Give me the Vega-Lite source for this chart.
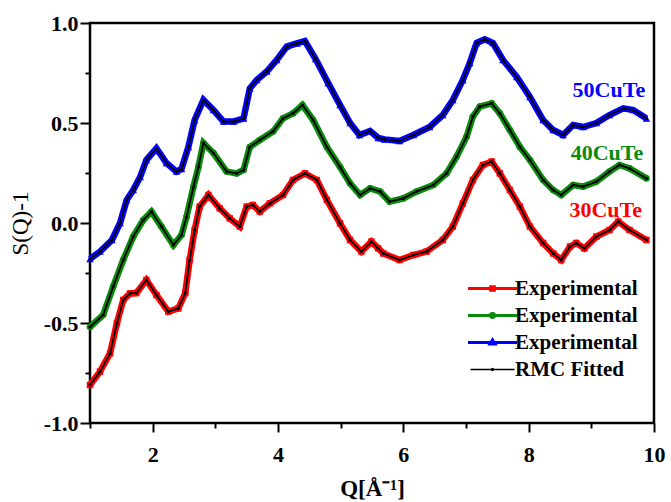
{
"$schema": "https://vega.github.io/schema/vega-lite/v6.json",
"width": 564, "height": 400,
"autosize": {"type": "none"},
"padding": {"left": 90, "top": 23, "right": 17, "bottom": 79},
"background": "white",
"config": {"view": {"stroke": "black", "strokeWidth": 2.5}, "font": "Liberation Serif"},
"datasets": {
"sq": [
{"series":"30CuTe","Q":1.0,"S":-0.81},{"series":"30CuTe","Q":1.16,"S":-0.743},{"series":"30CuTe","Q":1.32,"S":-0.652},{"series":"30CuTe","Q":1.43,"S":-0.5},{"series":"30CuTe","Q":1.53,"S":-0.385},{"series":"30CuTe","Q":1.64,"S":-0.352},{"series":"30CuTe","Q":1.74,"S":-0.35},{"series":"30CuTe","Q":1.9,"S":-0.285},{"series":"30CuTe","Q":2.06,"S":-0.36},{"series":"30CuTe","Q":2.25,"S":-0.443},{"series":"30CuTe","Q":2.41,"S":-0.427},{"series":"30CuTe","Q":2.52,"S":-0.35},{"series":"30CuTe","Q":2.59,"S":-0.185},{"series":"30CuTe","Q":2.67,"S":-0.035},{"series":"30CuTe","Q":2.75,"S":0.082},{"series":"30CuTe","Q":2.89,"S":0.14},{"series":"30CuTe","Q":3.07,"S":0.073},{"series":"30CuTe","Q":3.23,"S":0.023},{"series":"30CuTe","Q":3.39,"S":-0.018},{"series":"30CuTe","Q":3.5,"S":0.082},{"series":"30CuTe","Q":3.6,"S":0.09},{"series":"30CuTe","Q":3.71,"S":0.057},{"series":"30CuTe","Q":3.87,"S":0.098},{"series":"30CuTe","Q":4.08,"S":0.14},{"series":"30CuTe","Q":4.24,"S":0.215},{"series":"30CuTe","Q":4.43,"S":0.248},{"series":"30CuTe","Q":4.62,"S":0.215},{"series":"30CuTe","Q":4.78,"S":0.115},{"series":"30CuTe","Q":4.99,"S":-0.002},{"series":"30CuTe","Q":5.15,"S":-0.085},{"series":"30CuTe","Q":5.33,"S":-0.143},{"series":"30CuTe","Q":5.49,"S":-0.093},{"series":"30CuTe","Q":5.6,"S":-0.127},{"series":"30CuTe","Q":5.68,"S":-0.152},{"series":"30CuTe","Q":5.94,"S":-0.185},{"series":"30CuTe","Q":6.16,"S":-0.16},{"series":"30CuTe","Q":6.37,"S":-0.143},{"series":"30CuTe","Q":6.63,"S":-0.085},{"series":"30CuTe","Q":6.79,"S":-0.018},{"series":"30CuTe","Q":6.95,"S":0.098},{"series":"30CuTe","Q":7.11,"S":0.215},{"series":"30CuTe","Q":7.27,"S":0.29},{"series":"30CuTe","Q":7.41,"S":0.307},{"series":"30CuTe","Q":7.54,"S":0.248},{"series":"30CuTe","Q":7.7,"S":0.165},{"series":"30CuTe","Q":7.86,"S":0.082},{"series":"30CuTe","Q":8.02,"S":-0.018},{"series":"30CuTe","Q":8.23,"S":-0.1},{"series":"30CuTe","Q":8.39,"S":-0.152},{"series":"30CuTe","Q":8.52,"S":-0.185},{"series":"30CuTe","Q":8.66,"S":-0.118},{"series":"30CuTe","Q":8.76,"S":-0.1},{"series":"30CuTe","Q":8.89,"S":-0.127},{"series":"30CuTe","Q":9.08,"S":-0.068},{"series":"30CuTe","Q":9.29,"S":-0.035},{"series":"30CuTe","Q":9.43,"S":0.007},{"series":"30CuTe","Q":9.61,"S":-0.035},{"series":"30CuTe","Q":9.88,"S":-0.085},
{"series":"40CuTe","Q":1.0,"S":-0.52},{"series":"40CuTe","Q":1.21,"S":-0.46},{"series":"40CuTe","Q":1.37,"S":-0.318},{"series":"40CuTe","Q":1.53,"S":-0.185},{"series":"40CuTe","Q":1.69,"S":-0.068},{"series":"40CuTe","Q":1.85,"S":0.015},{"series":"40CuTe","Q":1.98,"S":0.057},{"series":"40CuTe","Q":2.14,"S":-0.018},{"series":"40CuTe","Q":2.33,"S":-0.11},{"series":"40CuTe","Q":2.46,"S":-0.06},{"series":"40CuTe","Q":2.54,"S":0.03},{"series":"40CuTe","Q":2.65,"S":0.18},{"series":"40CuTe","Q":2.73,"S":0.28},{"series":"40CuTe","Q":2.81,"S":0.4},{"series":"40CuTe","Q":2.97,"S":0.35},{"series":"40CuTe","Q":3.18,"S":0.257},{"series":"40CuTe","Q":3.34,"S":0.248},{"series":"40CuTe","Q":3.45,"S":0.265},{"series":"40CuTe","Q":3.55,"S":0.38},{"series":"40CuTe","Q":3.71,"S":0.415},{"series":"40CuTe","Q":3.92,"S":0.457},{"series":"40CuTe","Q":4.08,"S":0.523},{"series":"40CuTe","Q":4.24,"S":0.548},{"series":"40CuTe","Q":4.39,"S":0.59},{"series":"40CuTe","Q":4.56,"S":0.515},{"series":"40CuTe","Q":4.78,"S":0.38},{"series":"40CuTe","Q":4.99,"S":0.28},{"series":"40CuTe","Q":5.15,"S":0.198},{"series":"40CuTe","Q":5.31,"S":0.14},{"series":"40CuTe","Q":5.47,"S":0.173},{"series":"40CuTe","Q":5.63,"S":0.157},{"series":"40CuTe","Q":5.78,"S":0.107},{"series":"40CuTe","Q":6.0,"S":0.123},{"series":"40CuTe","Q":6.21,"S":0.157},{"series":"40CuTe","Q":6.48,"S":0.19},{"series":"40CuTe","Q":6.69,"S":0.248},{"series":"40CuTe","Q":6.85,"S":0.332},{"series":"40CuTe","Q":7.01,"S":0.432},{"series":"40CuTe","Q":7.11,"S":0.532},{"series":"40CuTe","Q":7.22,"S":0.582},{"series":"40CuTe","Q":7.41,"S":0.598},{"series":"40CuTe","Q":7.54,"S":0.548},{"series":"40CuTe","Q":7.7,"S":0.465},{"series":"40CuTe","Q":7.86,"S":0.38},{"series":"40CuTe","Q":8.02,"S":0.315},{"series":"40CuTe","Q":8.23,"S":0.215},{"series":"40CuTe","Q":8.39,"S":0.165},{"series":"40CuTe","Q":8.52,"S":0.14},{"series":"40CuTe","Q":8.71,"S":0.19},{"series":"40CuTe","Q":8.87,"S":0.182},{"series":"40CuTe","Q":9.08,"S":0.207},{"series":"40CuTe","Q":9.29,"S":0.257},{"series":"40CuTe","Q":9.45,"S":0.29},{"series":"40CuTe","Q":9.61,"S":0.273},{"series":"40CuTe","Q":9.88,"S":0.223},
{"series":"50CuTe","Q":1.0,"S":-0.18},{"series":"50CuTe","Q":1.16,"S":-0.143},{"series":"50CuTe","Q":1.35,"S":-0.085},{"series":"50CuTe","Q":1.48,"S":0.0},{"series":"50CuTe","Q":1.585,"S":0.115},{"series":"50CuTe","Q":1.69,"S":0.165},{"series":"50CuTe","Q":1.8,"S":0.23},{"series":"50CuTe","Q":1.9,"S":0.315},{"series":"50CuTe","Q":2.06,"S":0.373},{"series":"50CuTe","Q":2.22,"S":0.3},{"series":"50CuTe","Q":2.38,"S":0.257},{"series":"50CuTe","Q":2.46,"S":0.27},{"series":"50CuTe","Q":2.57,"S":0.38},{"series":"50CuTe","Q":2.67,"S":0.515},{"series":"50CuTe","Q":2.81,"S":0.615},{"series":"50CuTe","Q":2.97,"S":0.565},{"series":"50CuTe","Q":3.13,"S":0.507},{"series":"50CuTe","Q":3.29,"S":0.507},{"series":"50CuTe","Q":3.45,"S":0.523},{"series":"50CuTe","Q":3.55,"S":0.673},{"series":"50CuTe","Q":3.66,"S":0.715},{"series":"50CuTe","Q":3.82,"S":0.757},{"series":"50CuTe","Q":3.98,"S":0.815},{"series":"50CuTe","Q":4.14,"S":0.882},{"series":"50CuTe","Q":4.3,"S":0.898},{"series":"50CuTe","Q":4.43,"S":0.91},{"series":"50CuTe","Q":4.6,"S":0.82},{"series":"50CuTe","Q":4.8,"S":0.7},{"series":"50CuTe","Q":4.99,"S":0.59},{"series":"50CuTe","Q":5.15,"S":0.5},{"series":"50CuTe","Q":5.3,"S":0.44},{"series":"50CuTe","Q":5.47,"S":0.46},{"series":"50CuTe","Q":5.6,"S":0.425},{"series":"50CuTe","Q":5.7,"S":0.418},{"series":"50CuTe","Q":5.94,"S":0.41},{"series":"50CuTe","Q":6.16,"S":0.44},{"series":"50CuTe","Q":6.42,"S":0.48},{"series":"50CuTe","Q":6.63,"S":0.54},{"series":"50CuTe","Q":6.79,"S":0.615},{"series":"50CuTe","Q":6.95,"S":0.715},{"series":"50CuTe","Q":7.06,"S":0.8},{"series":"50CuTe","Q":7.17,"S":0.9},{"series":"50CuTe","Q":7.3,"S":0.918},{"series":"50CuTe","Q":7.43,"S":0.9},{"series":"50CuTe","Q":7.59,"S":0.815},{"series":"50CuTe","Q":7.81,"S":0.73},{"series":"50CuTe","Q":8.02,"S":0.63},{"series":"50CuTe","Q":8.23,"S":0.515},{"series":"50CuTe","Q":8.39,"S":0.465},{"series":"50CuTe","Q":8.55,"S":0.44},{"series":"50CuTe","Q":8.71,"S":0.49},{"series":"50CuTe","Q":8.87,"S":0.48},{"series":"50CuTe","Q":9.08,"S":0.5},{"series":"50CuTe","Q":9.29,"S":0.54},{"series":"50CuTe","Q":9.51,"S":0.573},{"series":"50CuTe","Q":9.67,"S":0.565},{"series":"50CuTe","Q":9.88,"S":0.523}
],
"labels": [
{"series":"50CuTe","label":"50CuTe","Q":9.28,"S":0.665},
{"series":"40CuTe","label":"40CuTe","Q":9.25,"S":0.35},
{"series":"30CuTe","label":"30CuTe","Q":9.23,"S":0.065}
]
},
"layer": [
{
"data": {"name": "sq"},
"mark": {"type": "point", "filled": true, "opacity": 0, "size": 1},
"encoding": {
"x": {"field": "Q", "type": "quantitative", "scale": {"domain": [1, 10], "nice": false, "zero": false},
"axis": {"values": [1,2,3,4,5,6,7,8,9,10], "labelExpr": "datum.value % 2 === 0 ? format(datum.value, 'd') : ''",
"tickSize": {"condition": {"test": "datum.value % 2 === 0", "value": 9}, "value": 5},
"tickWidth": 2, "tickColor": "black", "domain": false, "grid": false, "labelFlush": false,
"labelFont": "Liberation Serif", "labelFontWeight": "bold", "labelFontSize": 22, "labelColor": "black", "labelPadding": 12,
"title": "Q[Å⁻¹]", "titleFont": "Liberation Serif", "titleFontWeight": "bold", "titleFontSize": 23, "titleColor": "black", "titlePadding": 12}},
"y": {"field": "S", "type": "quantitative", "scale": {"domain": [-1, 1], "nice": false, "zero": false},
"axis": {"values": [-1,-0.75,-0.5,-0.25,0,0.25,0.5,0.75,1], "labelExpr": "(datum.value*2) % 1 === 0 ? (datum.value < 0 ? '-' : '') + format(abs(datum.value), '.1f') : ''",
"tickSize": {"condition": {"test": "(datum.value*2) % 1 === 0", "value": 10}, "value": 5},
"tickWidth": 2, "tickColor": "black", "domain": false, "grid": false, "labelFlush": false,
"labelFont": "Liberation Serif", "labelFontWeight": "bold", "labelFontSize": 22, "labelColor": "black", "labelPadding": 2,
"title": "S(Q)-1", "titleFont": "Liberation Serif", "titleFontWeight": "normal", "titleFontSize": 23, "titleColor": "black", "titlePadding": 11}},
"color": {"field": "series", "type": "nominal",
"scale": {"domain": ["30CuTe", "40CuTe", "50CuTe", "RMC Fitted"], "range": ["#ff0000", "#0a8a0a", "#0000ff", "#000000"]},
"legend": {"orient": "none", "legendX": 392, "legendY": 255, "title": null, "padding": 0,
"symbolSize": 2401, "rowPadding": 5, "labelOffset": 12,
"labelFont": "Liberation Serif", "labelFontWeight": "bold", "labelFontSize": 21, "labelColor": "black",
"labelExpr": "datum.value === 'RMC Fitted' ? '\u00a0RMC Fitted' : 'Experimental'",
"symbolStrokeWidth": 2.8, "symbolOpacity": 1,
"encode": {"symbols": {"update": {"fill": {"scale": "color", "field": "value"}, "stroke": {"scale": "color", "field": "value"}, "opacity": {"value": 1}, "strokeWidth": {"signal": "datum.value === 'RMC Fitted' ? 1.4 : 2.8"}}}}}},
"shape": {"field": "series", "type": "nominal",
"scale": {"domain": ["30CuTe", "40CuTe", "50CuTe", "RMC Fitted"],
"range": ["M-1,0H1M-0.08,-0.08H0.08V0.08H-0.08Z", "M-1,0H1M-0.085,0A0.085,0.085 0 1,0 0.085,0A0.085,0.085 0 1,0 -0.085,0Z", "M-1,0H1M0,-0.11L0.11,0.07H-0.11Z", "M-0.9,0H0.9M-0.04,0A0.04,0.04 0 1,0 0.04,0A0.04,0.04 0 1,0 -0.04,0Z"]}}
}
},
{
"data": {"name": "sq"},
"mark": {"type": "line", "strokeWidth": 6.5},
"encoding": {
"x": {"field": "Q", "type": "quantitative"},
"y": {"field": "S", "type": "quantitative"},
"color": {"field": "series", "type": "nominal", "legend": null}
}
},
{
"data": {"name": "sq"},
"transform": [{"filter": "datum.series === '30CuTe'"}],
"mark": {"type": "point", "shape": "square", "filled": true, "size": 42, "color": "#ff0000", "opacity": 1},
"encoding": {"x": {"field": "Q", "type": "quantitative"}, "y": {"field": "S", "type": "quantitative"}}
},
{
"data": {"name": "sq"},
"transform": [{"filter": "datum.series === '40CuTe'"}],
"mark": {"type": "point", "shape": "circle", "filled": true, "size": 44, "color": "#0a8a0a", "opacity": 1},
"encoding": {"x": {"field": "Q", "type": "quantitative"}, "y": {"field": "S", "type": "quantitative"}}
},
{
"data": {"name": "sq"},
"transform": [{"filter": "datum.series === '50CuTe'"}],
"mark": {"type": "point", "shape": "triangle-up", "filled": true, "size": 56, "color": "#0000ff", "opacity": 1},
"encoding": {"x": {"field": "Q", "type": "quantitative"}, "y": {"field": "S", "type": "quantitative"}}
},
{
"data": {"name": "sq"},
"mark": {"type": "line", "color": "black", "strokeWidth": 1.8},
"encoding": {"x": {"field": "Q", "type": "quantitative"}, "y": {"field": "S", "type": "quantitative"}, "detail": {"field": "series"}}
},
{
"data": {"name": "sq"},
"mark": {"type": "point", "shape": "circle", "filled": true, "size": 10, "color": "black", "opacity": 1},
"encoding": {"x": {"field": "Q", "type": "quantitative"}, "y": {"field": "S", "type": "quantitative"}}
},
{
"data": {"name": "labels"},
"mark": {"type": "text", "font": "Liberation Serif", "fontWeight": "bold", "fontSize": 22, "align": "center", "baseline": "middle"},
"encoding": {"x": {"field": "Q", "type": "quantitative"}, "y": {"field": "S", "type": "quantitative"}, "text": {"field": "label"},
"color": {"field": "series", "type": "nominal", "legend": null}}
}
]
}
